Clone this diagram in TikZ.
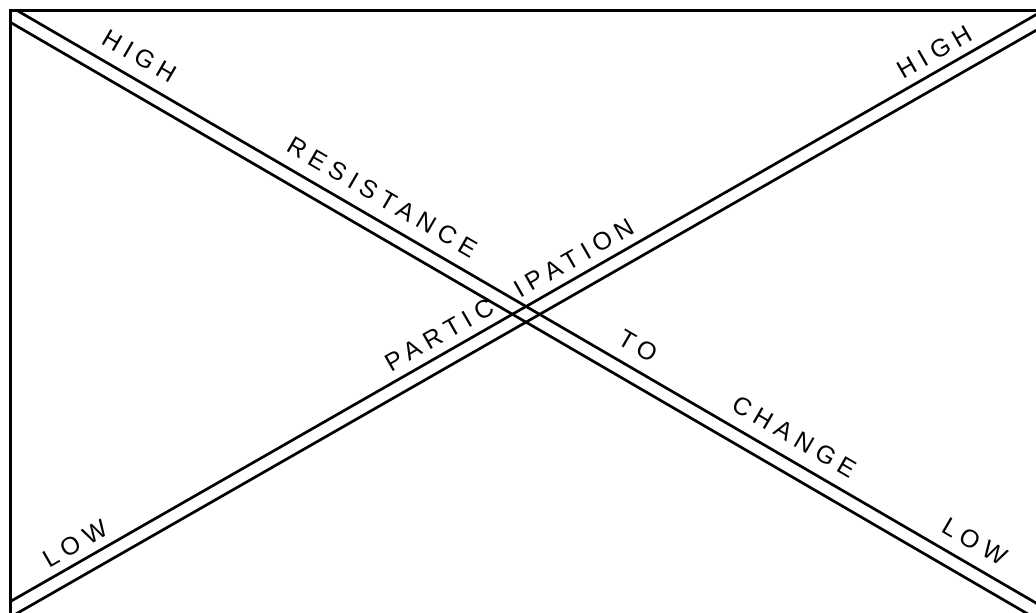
\documentclass[tikz,border=0pt]{standalone}
\usepackage{fontspec}
\setmainfont{Liberation Sans}[LetterSpace=25]
\usetikzlibrary{calc}

\begin{document}
\begin{tikzpicture}[x=1pt, y=1pt,
            frame/.style={draw, line width=3pt},
            rail/.style={draw, line width=2.7pt},
            lbl/.style={sloped, inner sep=0pt, font=\fontsize{25}{30}\selectfont},
            fall/.style={lbl, above=20pt},
            rise/.style={lbl, above=16pt}
        ]
            \useasboundingbox (0,0) rectangle (1036,613);
            % ends of the two crossing bands
            \coordinate (fS) at (-20,616.2);
            \coordinate (fE) at (1066,-15.3);
            \coordinate (rS) at (-20,-13.7);
            \coordinate (rE) at (1066,607.6);

            \begin{scope}
                \clip (10,-40) rectangle (1080,602);
                \draw [rail] ($(fS)!6.8pt!90:(fE)$) -- ($(fE)!6.8pt!-90:(fS)$);
                \draw [rail] ($(fS)!6.8pt!-90:(fE)$) -- ($(fE)!6.8pt!90:(fS)$);
                \draw [rail] ($(rS)!6.8pt!90:(rE)$) -- ($(rE)!6.8pt!-90:(rS)$);
                \draw [rail] ($(rS)!6.8pt!-90:(rE)$) -- ($(rE)!6.8pt!90:(rS)$);
            \end{scope}
            \draw [frame] (10,-40) rectangle (1080,602);

            \path (fS) -- (fE)
                node [fall, pos=0.1337] (fHigh) {HIGH}
                node [fall, pos=0.3573] (fRes) {RESISTANCE}
                node [fall, pos=0.5929] (fTo) {TO}
                node [fall, pos=0.7364] (fChange) {CHANGE}
                node [fall, pos=0.9025] (fLow) {LOW};
            \path (rS) -- (rE)
                node [rise, pos=0.0990] (rLow) {LOW}
                node [rise, pos=0.4345] (rPart) {PARTIC}
                node [rise, pos=0.5587] (rIpat) {IPATION}
                node [rise, pos=0.8904] (rHigh) {HIGH};
        \end{tikzpicture}
\end{document}
